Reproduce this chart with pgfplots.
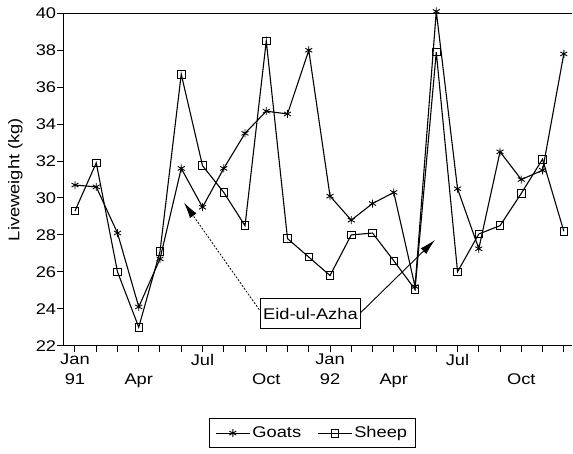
\documentclass[border=0pt]{standalone}
\usepackage{fontspec}
\setmainfont{Liberation Sans}[FakeStretch=1.18]
\usepackage{pgfplots}
\usepackage{pgfplotstable}
\pgfplotsset{compat=1.18}
\usetikzlibrary{arrows.meta}
\pgfplotstableread{
m w
0 30.7
1 30.6
2 28.1
3 24.1
4 26.7
5 31.6
6 29.5
7 31.6
8 33.5
9 34.7
10 34.55
11 38.0
12 30.1
13 28.8
14 29.7
15 30.3
16 25.2
17 40.1
18 30.5
19 27.25
20 32.5
21 31.0
22 31.5
23 37.8
}\goats
\pgfplotstableread{
m w
0 29.3
1 31.9
2 26.0
3 23.0
4 27.1
5 36.7
6 31.75
7 30.3
8 28.5
9 38.5
10 27.8
11 26.8
12 25.8
13 28.0
14 28.1
15 26.6
16 25.05
17 37.9
18 26.0
19 28.05
20 28.5
21 30.25
22 32.1
23 28.2
}\sheep
\begin{document}
\fontsize{15.5}{20}\selectfont
\begin{tikzpicture}
\useasboundingbox (-63.3pt,-107.3pt) rectangle (509.7pt,345.7pt);
\begin{axis}[
  scale only axis, width=509pt, height=332.4pt,
  xmin=-0.55, xmax=23.4, ymin=22, ymax=40,
  separate axis lines,
  axis x line=box, axis y line=left,
  x axis line style={-, line width=1.1pt},
  y axis line style={-, line width=1.1pt},
  xtick={0,3,6,9,12,15,18,21},
  xticklabels={{Jan\\91},{\vphantom{J}\\Apr},{Jul},{\vphantom{J}\\Oct},{Jan\\92},{\vphantom{J}\\Apr},{Jul},{\vphantom{J}\\Oct}},
  minor xtick={0,...,23},
  xtick pos=left, ytick pos=left,
  tick align=outside,
  major tick length=6pt, minor tick length=6pt,
  every tick/.style={black, line width=1pt},
  minor tick style={black, line width=1pt},
  ytick={22,24,...,40},
  ylabel={Liveweight (kg)},
  ylabel style={at={(axis description cs:-0.094,0.5)}, anchor=center},
  /pgf/number format/assume math mode=true,
  xticklabel style={align=center, inner sep=2pt},
  yticklabel style={inner sep=1pt},
  clip=false,
  legend columns=2,
  legend style={at={(axis description cs:0.489,-0.263)}, anchor=center, draw=black, line width=1pt,
    inner xsep=6pt, inner ysep=6pt,
    /tikz/every even column/.append style={column sep=14pt}},
  legend image code/.code={\draw[mark repeat=2,mark phase=2,#1] plot coordinates {(0pt,0pt) (17pt,0pt) (34pt,0pt)};},
  every axis plot/.append style={black, line width=1.1pt},
]
\addplot[mark=asterisk, mark size=4pt, mark options={solid, line width=0.9pt}] table[x=m,y=w] {\goats};
\addlegendentry{Goats}
\addplot[mark=square, mark size=3.8pt, mark options={solid, line width=0.8pt}] table[x=m,y=w] {\sheep};
\addlegendentry{Sheep}
\node[draw, fill=white, line width=1pt, inner sep=3pt, minimum width=100pt, minimum height=30pt] at (axis cs:11.08,23.72) {Eid-ul-Azha};
\draw[line width=0.8pt, dash pattern=on 2pt off 1.5pt, -{Latex[length=16pt,width=8pt]}] (axis cs:8.67,23.95) -- (axis cs:5.13,29.75);
\draw[line width=0.9pt, -{Latex[length=16pt,width=8pt]}] (axis cs:13.45,23.8) -- (axis cs:16.94,27.73);
\end{axis}
\end{tikzpicture}
\end{document}
